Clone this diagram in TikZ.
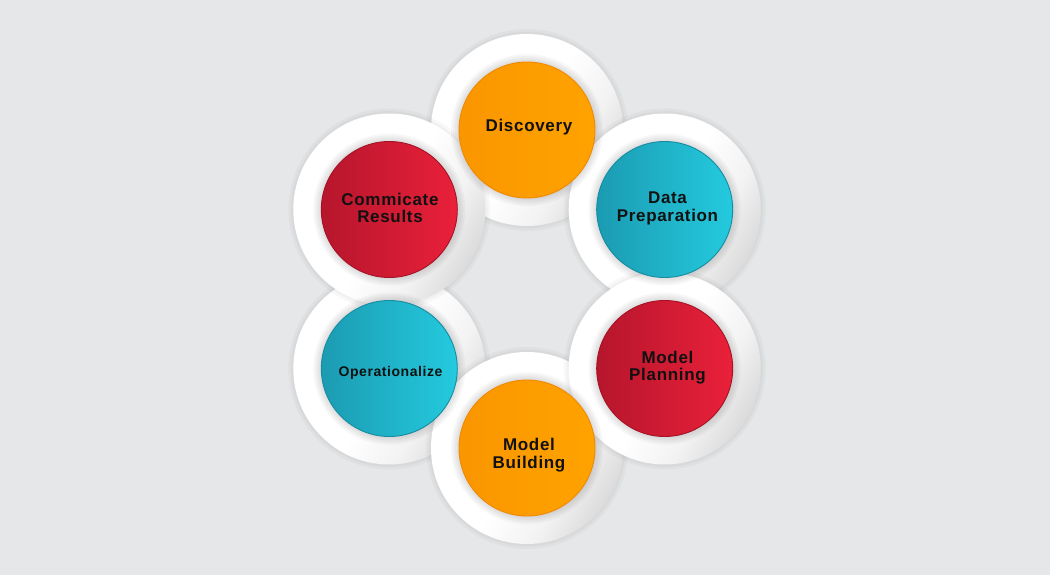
\documentclass[tikz,border=0pt]{standalone}
\usepackage{fontspec}
\setmainfont{Liberation Sans}[LetterSpace=4]
\definecolor{bg}{RGB}{230,231,233}
\definecolor{orL}{RGB}{250,150,0}
\definecolor{orR}{RGB}{255,163,0}
\definecolor{orRim}{RGB}{240,136,0}
\definecolor{tlL}{RGB}{27,155,178}
\definecolor{tlR}{RGB}{36,202,222}
\definecolor{tlRim}{RGB}{22,140,162}
\definecolor{rdL}{RGB}{182,22,44}
\definecolor{rdR}{RGB}{234,32,58}
\definecolor{rdRim}{RGB}{165,18,38}
\definecolor{ink}{RGB}{17,17,17}
\pgfdeclarehorizontalshading{wdiscshade}{100bp}{color(0bp)=(white); color(25bp)=(white); color(50bp)=(white); color(64bp)=(white!95!black); color(75bp)=(white!86!black); color(100bp)=(white!86!black)}
\begin{document}
\begin{tikzpicture}[x=1pt,y=-1pt,
  wdisc/.style={circle, minimum size=192pt, inner sep=0pt, shading=wdiscshade, shading angle=-30},
  ball/.style={circle, minimum size=136pt, inner sep=0pt, line width=0.9pt},
  orangeball/.style={ball, left color=orL, right color=orR, draw=orRim},
  tealball/.style={ball, left color=tlL, right color=tlR, draw=tlRim},
  redball/.style={ball, left color=rdL, right color=rdR, draw=rdRim},
  lbl/.style={font=\bfseries\fontsize{17}{17.5}\selectfont, align=center, text=ink, inner sep=0pt, anchor=base},
  smalllbl/.style={lbl, font=\bfseries\fontsize{14}{16}\selectfont},
  shadowlayer/.style={fill=black, opacity=0.028}
]
\fill[bg] (0,0) rectangle (1050,575);
\useasboundingbox (0,0) rectangle (1050,575);

% centres
\coordinate (cDis) at (527,130);
\coordinate (cDat) at (664.7,209.5);
\coordinate (cPla) at (664.7,368.5);
\coordinate (cBui) at (527,448);
\coordinate (cOpe) at (389.3,368.5);
\coordinate (cCom) at (389.3,209.5);

% white discs with soft shadows, painter's order
\foreach \c/\n in {cDis/wDis, cOpe/wOpe, cDat/wDat, cCom/wCom, cBui/wBui, cPla/wPla}{
  \foreach \k in {0,...,7}
    \fill[shadowlayer, shift={(8,10)}] (\c) circle[radius=101pt-2.6pt*\k];
  \node[wdisc] (\n) at (\c) {};
}

% shadows of the coloured balls
\foreach \c in {cDis, cDat, cPla, cBui, cOpe, cCom}{
  \foreach \k in {0,...,6}
    \fill[shadowlayer, opacity=0.032, shift={(8,6)}] (\c) circle[radius=76pt-2pt*\k];
}

% coloured balls
\node[orangeball] (discovery) at (cDis) {};
\node[tealball] (dataprep) at (cDat) {};
\node[redball] (planning) at (cPla) {};
\node[orangeball] (building) at (cBui) {};
\node[tealball] (operational) at (cOpe) {};
\node[redball] (communicate) at (cCom) {};

% labels (base = baseline of the last line)
\node[lbl] (tDis) at (529,131.7) {Discovery};
\node[lbl] (tDat) at (667.5,221.5) {Data\\Preparation};
\node[lbl] (tPla) at (667.5,380.7) {Model\\Planning};
\node[lbl] (tBui) at (529,468) {Model\\Building};
\node[smalllbl] (tOpe) at (390.5,376) {Operationalize};
\node[lbl] (tCom) at (390,222.7) {Commicate\\Results};
\end{tikzpicture}
\end{document}
